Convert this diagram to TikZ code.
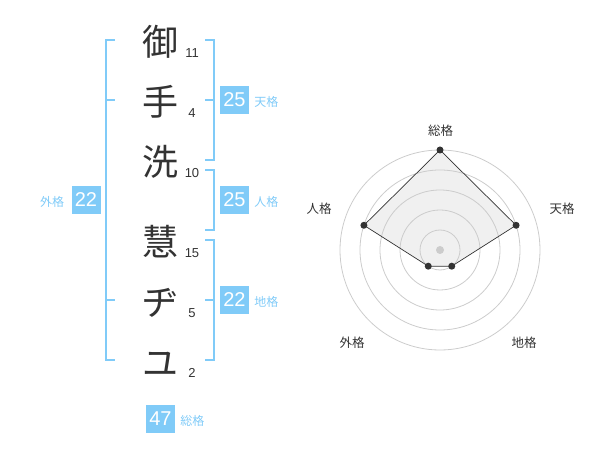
\documentclass[tikz,border=0pt]{standalone}
\usepackage{fontspec}
\setmainfont{Liberation Sans}
\newfontfamily\jp{Noto Sans CJK JP}
\usepackage{xcolor}
\usepackage{tikz}
\usetikzlibrary{positioning}
\definecolor{kakublue}{HTML}{80CBF8}
\definecolor{inkgray}{HTML}{333333}
\definecolor{ringgray}{HTML}{CCCCCC}

\begin{document}
\begin{tikzpicture}[x=1pt, y=-1pt,
    kanji/.style={anchor=base, inner sep=0pt, text=inkgray, font=\jp\fontsize{36}{36}\selectfont},
    strokes/.style={anchor=base, inner sep=0pt, text=inkgray, font=\fontsize{13}{13}\selectfont},
    score/.style={fill=kakublue, text=white, minimum width=29pt, minimum height=28pt, inner sep=0pt, font=\fontsize{20}{20}\selectfont},
    kaku/.style={inner sep=0pt, text=kakublue, font=\jp\fontsize{12}{12}\selectfont},
    bracket/.style={draw=kakublue, line width=1.5pt},
    axis/.style={inner sep=0pt, text=inkgray, font=\jp\fontsize{12.5}{12.5}\selectfont}]
    \useasboundingbox (0,0) rectangle (600,470);

    % name, one character per row
    \node[kanji] (c1) at (160,56) {御};
    \node[kanji] (c2) at (160,116) {手};
    \node[kanji] (c3) at (160,176) {洗};
    \node[kanji] (c4) at (160,256) {慧};
    \node[kanji] (c5) at (160,316) {ヂ};
    \node[kanji] (c6) at (160,377) {ユ};

    \node[strokes] (n1) at ([xshift=32pt, yshift=-1.5pt]c1.base) {11};
    \node[strokes] (n2) at ([xshift=32pt, yshift=-1.5pt]c2.base) {4};
    \node[strokes] (n3) at ([xshift=32pt, yshift=-1.5pt]c3.base) {10};
    \node[strokes] (n4) at ([xshift=32pt, yshift=-1.5pt]c4.base) {15};
    \node[strokes] (n5) at ([xshift=32pt, yshift=-1.5pt]c5.base) {5};
    \node[strokes] (n6) at ([xshift=32pt, yshift=-0.5pt]c6.base) {2};

    % brackets
    \draw[bracket] (115,40) -- (106,40) -- (106,360) -- (115,360);
    \draw[bracket] (106,100) -- (115,100);
    \draw[bracket] (106,300) -- (115,300);
    \draw[bracket] (205,40) -- (214,40) -- (214,160) -- (205,160);
    \draw[bracket] (205,100) -- (214,100);
    \draw[bracket] (205,170) -- (214,170) -- (214,230) -- (205,230);
    \draw[bracket] (205,240) -- (214,240) -- (214,360) -- (205,360);
    \draw[bracket] (205,300) -- (214,300);

    % scores
    \node[score] (ten) at (234.5,100) {25};
    \node[score] (jin) at (234.5,200) {25};
    \node[score] (chi) at (234.5,300) {22};
    \node[score] (gai) at (86,200) {22};
    \node[score] (sou) at (160.5,419) {47};
    \node[kaku, base right=5pt of ten] (tenl) {天格};
    \node[kaku, base right=5pt of jin] (jinl) {人格};
    \node[kaku, base right=5pt of chi] (chil) {地格};
    \node[kaku, base left=7pt of gai] (gail) {外格};
    \node[kaku, base right=5pt of sou] (soul) {総格};

    % radar chart
    \coordinate (ctr) at (440,250);
    \begin{scope}[shift={(ctr)}]
        \coordinate (psou) at (-90:100);
        \coordinate (pten) at (-18:80);
        \coordinate (pchi) at (54:20);
        \coordinate (pgai) at (126:20);
        \coordinate (pjin) at (198:80);
    \end{scope}
    \fill[gray!12] (psou) -- (pten) -- (pchi) -- (pgai) -- (pjin) -- cycle;
    \foreach \r in {20,40,60,80,100}
        \draw[ringgray, line width=0.8pt] (ctr) circle (\r pt);
    \fill[ringgray] (ctr) circle (4pt);
    \draw[inkgray, line width=0.7pt] (psou) -- (pten) -- (pchi) -- (pgai) -- (pjin) -- cycle;
    \foreach \p in {psou,pten,pchi,pgai,pjin}
        \fill[inkgray] (\p) circle (3.5pt);

    \node[axis] (asou) at (440.5,130.5) {総格};
    \node[axis] (aten) at (562,208.5) {天格};
    \node[axis] (achi) at (524,342.5) {地格};
    \node[axis] (agai) at (352,342.5) {外格};
    \node[axis] (ajin) at (319,208.5) {人格};
\end{tikzpicture}
\end{document}
